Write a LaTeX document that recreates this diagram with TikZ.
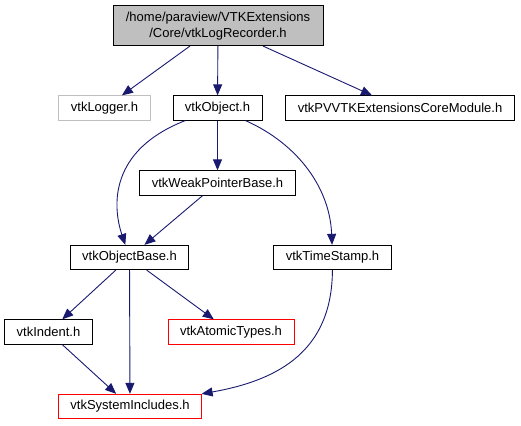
\documentclass[tikz,border=0pt]{standalone}
\usepackage{fontspec}
\setmainfont{Liberation Sans}
\usetikzlibrary{arrows.meta}
\definecolor{edgeblue}{HTML}{191970}
\definecolor{hdrgray}{HTML}{BFBFBF}
\definecolor{hdrred}{HTML}{FF0000}
\begin{document}
\begin{tikzpicture}[x=1pt, y=-1pt, hdr/.style={draw,line width=0.8pt,inner xsep=12pt,inner ysep=0pt,minimum height=24.5pt,font=\fontsize{13}{16}\selectfont}, dep/.style={->,draw=edgeblue,line width=0.9pt}, >={Triangle[length=11pt,width=9pt]}]
\useasboundingbox (0,0) rectangle (521,425);
\node[hdr, fill=hdrgray, align=center, minimum width=210pt, minimum height=40pt] (rec) at (218,25.7) {/home/paraview/VTKExtensions\\/Core/vtkLogRecorder.h};
\node[hdr, draw=hdrgray] (logger) at (104.5,108) {vtkLogger.h};
\draw[dep] (rec) -- (logger);
\node[hdr] (obj) at (217.5,108) {vtkObject.h};
\draw[dep] (rec) -- (obj);
\node[hdr] (coremod) at (400,108) {vtkPVVTKExtensionsCoreModule.h};
\draw[dep] (rec) -- (coremod);
\node[hdr] (weakptr) at (217.5,183) {vtkWeakPointerBase.h};
\draw[dep] (obj) -- (weakptr);
\node[hdr] (objbase) at (129.5,257.5) {vtkObjectBase.h};
\draw[dep] (obj) .. controls (110,150) and (112,205) .. (objbase);
\draw[dep] (weakptr) -- (objbase);
\node[hdr] (tstamp) at (332.5,257.5) {vtkTimeStamp.h};
\draw[dep] (obj) .. controls (300,145) and (330,190) .. (tstamp);
\node[hdr] (indent) at (48.5,332) {vtkIndent.h};
\draw[dep] (objbase) -- (indent);
\node[hdr, draw=hdrred] (atomic) at (231,332) {vtkAtomicTypes.h};
\draw[dep] (objbase) -- (atomic);
\node[hdr, draw=hdrred] (sysinc) at (130,406.5) {vtkSystemIncludes.h};
\draw[dep] (objbase) -- (sysinc);
\draw[dep] (indent) -- (sysinc);
\draw[dep] (tstamp) .. controls (332,350) and (280,380) .. (sysinc);
\end{tikzpicture}
\end{document}
